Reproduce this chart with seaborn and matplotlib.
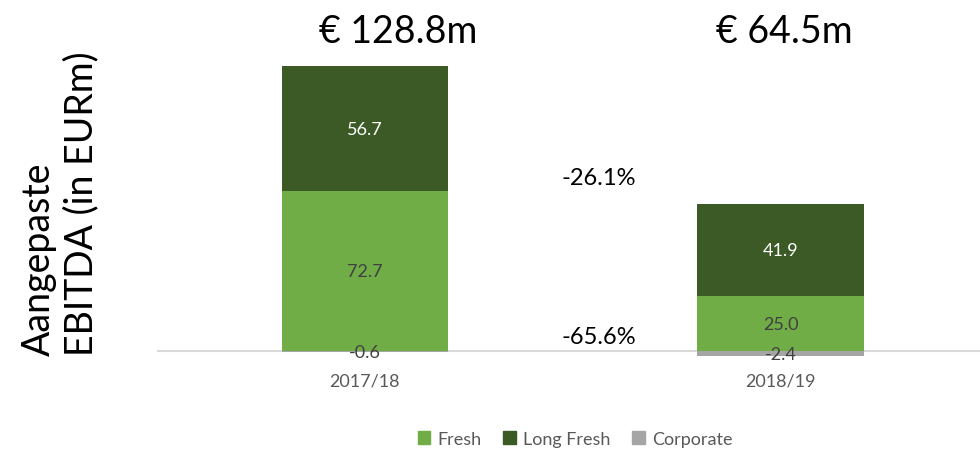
import pandas as pd
import matplotlib.pyplot as plt
import seaborn as sns
from matplotlib.patches import Patch

# data
years = ["2017/18", "2018/19"]
fresh = [72.7, 25.0]
long_fresh = [56.7, 41.9]
corporate = [-0.6, -2.4]

col_fresh = "#70AD47"
col_long = "#3B5A25"
col_corp = "#A5A5A5"

sns.set_theme(style="white")
plt.rcParams["font.family"] = ["Lato", "DejaVu Sans"]

df = pd.DataFrame({"year": years, "fresh": fresh, "long_fresh": long_fresh, "corporate": corporate})
df["top"] = df["fresh"] + df["long_fresh"]
df["total"] = df["top"] + df["corporate"]

fig = plt.figure(figsize=(9.8, 4.52), dpi=100)
ax = fig.add_axes([157 / 980, (452 - 365) / 452, 1 - 157 / 980, 305 / 452])

# stacked bars: draw cumulative top first, then Fresh over it, corporate below zero
sns.barplot(data=df, x="year", y="top", color=col_long, width=0.4, ax=ax, saturation=1, linewidth=0)
sns.barplot(data=df, x="year", y="fresh", color=col_fresh, width=0.4, ax=ax, saturation=1, linewidth=0)
sns.barplot(data=df, x="year", y="corporate", color=col_corp, width=0.4, ax=ax, saturation=1, linewidth=0)

ax.set_xlim(-0.5, 1.48)
ax.set_ylim(-5.9, 132.7)
ax.axhline(0, color="#D9D9D9", lw=1.5, zorder=0.5)
sns.despine(ax=ax, left=True, bottom=True)
ax.set_yticks([])
ax.set_xlabel("")
ax.set_ylabel("")
ax.tick_params(axis="x", length=0, pad=6, labelsize=13, labelcolor="#595959")

# value labels at segment centres
for i in range(len(years)):
    ax.text(i, fresh[i] / 2, f"{fresh[i]:.1f}", ha="center", va="center", fontsize=13, color="#404040")
    ax.text(i, fresh[i] + long_fresh[i] / 2, f"{long_fresh[i]:.1f}", ha="center", va="center",
            fontsize=13, color="white")
    ax.text(i, corporate[i] / 2, f"{corporate[i]:.1f}", ha="center", va="center", fontsize=13, color="#404040")
    # totals above
    ax.text(i + 0.08 - 0.07 * i, 145.5, f"€ {df['total'][i]:.1f}m", ha="center", va="center",
            fontsize=27, color="black")

# change percentages between the years
chg_long = (long_fresh[1] / long_fresh[0] - 1) * 100
chg_fresh = (fresh[1] / fresh[0] - 1) * 100
ax.text(0.5625, 79, f"{chg_long:.1f}%", ha="center", va="center", fontsize=17, color="black")
ax.text(0.5625, 6.8, f"{chg_fresh:.1f}%", ha="center", va="center", fontsize=17, color="black")

fig.text(60 / 980, 1 - 356 / 452, "Aangepaste\nEBITDA (in EURm)", rotation=90, ha="center", va="bottom",
         multialignment="left", fontsize=27, color="black", linespacing=1.2)

handles = [Patch(color=col_fresh, label="Fresh"), Patch(color=col_long, label="Long Fresh"),
           Patch(color=col_corp, label="Corporate")]
leg = fig.legend(handles=handles, loc="center", bbox_to_anchor=(575 / 980, 1 - 440 / 452), ncol=3,
                 frameon=False, fontsize=13, handlelength=0.7, handleheight=0.7, handletextpad=0.4,
                 columnspacing=1.2)
for t in leg.get_texts():
    t.set_color("#595959")

fig.savefig("out.png", dpi=100)
